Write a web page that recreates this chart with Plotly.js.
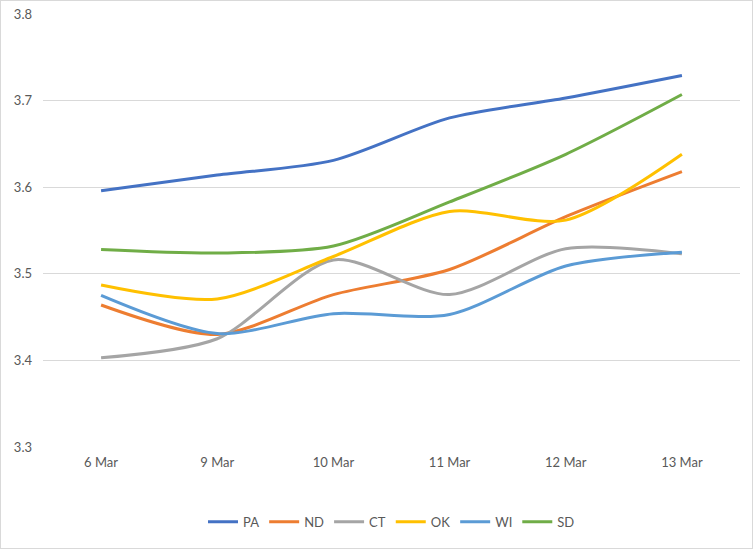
<!DOCTYPE html>
<html>
<head>
<meta charset="utf-8">
<script src="https://cdn.plot.ly/plotly-3.0.1.min.js"></script>
<style>
html,body{margin:0;padding:0;background:#fff;}
#chart{width:751px;height:547px;border:1px solid #d9d9d9;}
</style>
</head>
<body>
<div id="chart"></div>
<script>
const categories = ["6 Mar", "9 Mar", "10 Mar", "11 Mar", "12 Mar", "13 Mar"];
const seriesNames = ["PA", "ND", "CT", "OK", "WI", "SD"];
const PA = [3.596, 3.614, 3.631, 3.680, 3.703, 3.729];
const ND = [3.464, 3.430, 3.476, 3.505, 3.566, 3.618];
const CT = [3.403, 3.425, 3.516, 3.476, 3.529, 3.523];
const OK = [3.487, 3.471, 3.520, 3.572, 3.562, 3.638];
const WI = [3.475, 3.431, 3.454, 3.453, 3.509, 3.525];
const SD = [3.528, 3.524, 3.532, 3.583, 3.638, 3.707];
const colors = ["#4472C4", "#ED7D31", "#A5A5A5", "#FFC000", "#5B9BD5", "#70AD47"];
const values = [PA, ND, CT, OK, WI, SD];

const traces = seriesNames.map((n, i) => ({
  type: "scatter",
  mode: "lines",
  name: n,
  x: categories,
  y: values[i],
  line: {color: colors[i], width: 3, shape: "spline", smoothing: 0.8},
  hoverinfo: "skip"
}));

const layout = {
  width: 751,
  height: 547,
  margin: {l: 42, r: 12, t: 13, b: 100},
  paper_bgcolor: "#ffffff",
  plot_bgcolor: "#ffffff",
  font: {family: "Lato, 'Open Sans', sans-serif", size: 13, color: "#595959"},
  showlegend: true,
  legend: {
    orientation: "h",
    x: 0.5, xanchor: "center",
    y: -0.17, yanchor: "middle",
    font: {size: 13, color: "#595959"},
    itemwidth: 30,
    tracegroupgap: 0
  },
  xaxis: {
    type: "category",
    range: [-0.5, 5.5],
    showgrid: false,
    zeroline: false,
    showline: false,
    ticks: "",
    ticklabelstandoff: 6,
    fixedrange: true
  },
  yaxis: {
    range: [3.3, 3.8],
    dtick: 0.1,
    tickformat: ".1f",
    showgrid: true,
    gridcolor: "#d9d9d9",
    gridwidth: 1,
    zeroline: false,
    showline: false,
    ticks: "",
    ticklabelstandoff: 10,
    fixedrange: true
  }
};

Plotly.newPlot("chart", traces, layout, {displayModeBar: false, staticPlot: true});
</script>
</body>
</html>
